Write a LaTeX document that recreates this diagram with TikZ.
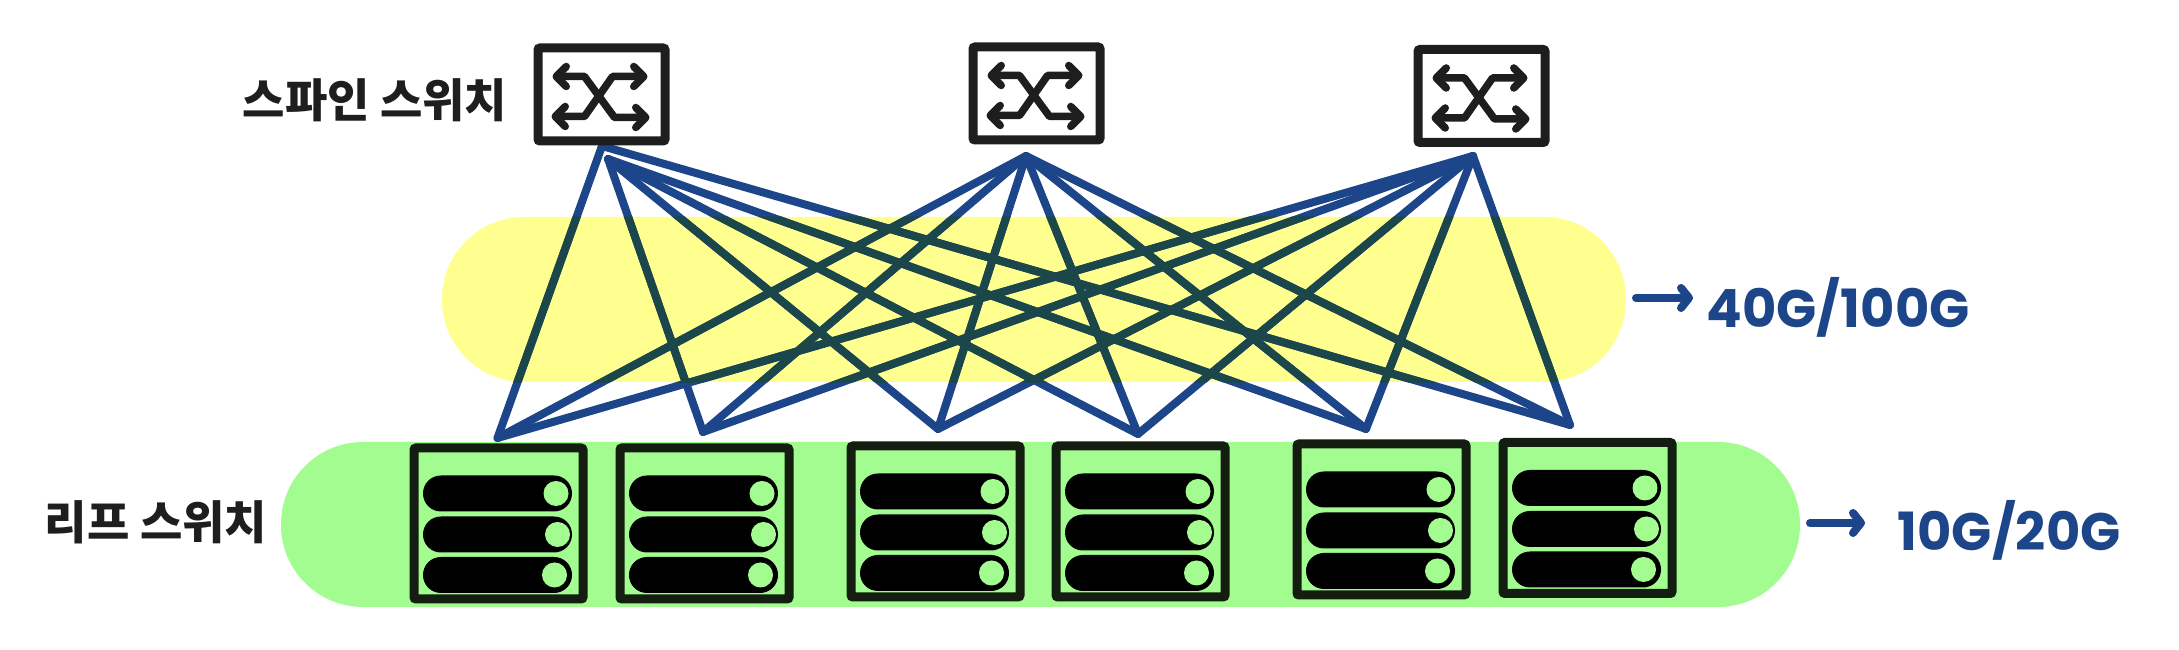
\documentclass[tikz,border=0pt]{standalone}
\usepackage{fontspec}
\newfontfamily\cjk{Noto Sans CJK KR}
\newfontfamily\speedfont{Poppins}
\usetikzlibrary{arrows.meta}
\definecolor{linkblue}{HTML}{1D4589}
\definecolor{linkgreen}{HTML}{1B474A}
\definecolor{bandyellow}{HTML}{FFFF8F}
\definecolor{bandgreen}{HTML}{A3FC90}
\definecolor{boxdark}{HTML}{1E1E1E}
\definecolor{leafdark}{HTML}{131E10}
\tikzstyle{spineswitch} = [
    rectangle,
    rounded corners=0.02cm,
    minimum width=1.27cm,
    minimum height=0.93cm,
    line width=0.09cm,
    draw=boxdark,
    node distance=4.35cm
]
\tikzstyle{leafswitch} = [
    rectangle,
    rounded corners=0.02cm,
    minimum width=1.69cm,
    minimum height=1.51cm,
    line width=0.09cm,
    draw=leafdark
]
\tikzstyle{band} = [
    rectangle,
    rounded corners=0.82cm,
    minimum height=1.65cm
]
\tikzstyle{leafbar} = [
    rectangle,
    rounded corners=0.179cm,
    minimum width=1.49cm,
    minimum height=0.36cm,
    inner sep=0pt,
    fill=black
]
\tikzstyle{leafdot} = [
    circle,
    minimum size=0.25cm,
    inner sep=0pt,
    fill=bandgreen
]
\tikzstyle{cross} = [
    line width=0.075cm,
    draw=boxdark,
    line cap=round,
    line join=round,
    {Straight Barb[length=0.1cm,width=0.2cm,round]}-{Straight Barb[length=0.1cm,width=0.2cm,round]}
]
\tikzstyle{link} = [line width=0.08cm, line cap=round, line join=round]
\tikzstyle{speedarrow} = [
    line width=0.08cm,
    draw=linkblue,
    line cap=round,
    -{Straight Barb[length=0.08cm,width=0.2cm,round]}
]
\tikzstyle{tag} = [inner sep=0pt, font=\cjk\bfseries\fontsize{13.1pt}{15pt}\selectfont, text=boxdark]
\tikzstyle{speed} = [inner sep=0pt, font=\speedfont\bfseries\fontsize{15pt}{18pt}\selectfont, text=linkblue]
\newcommand{\crossarrows}[1]{
    \begin{scope}[shift={(#1.center)}]
    \draw [cross] (-0.49,0.18) -- (-0.17,0.18) -- (0.13,-0.23) -- (0.48,-0.23);
    \draw [cross] (-0.5,-0.22) -- (-0.17,-0.22) -- (0.11,0.18) -- (0.46,0.18);
    \end{scope}
}
\newcommand{\leafbars}[1]{
    \node (#1barA) [leafbar] at ([xshift=-0.01cm,yshift=0.3cm]#1.center) {};
    \node (#1barB) [leafbar] at ([xshift=-0.01cm,yshift=-0.11cm]#1.center) {};
    \node (#1barC) [leafbar] at ([xshift=-0.01cm,yshift=-0.515cm]#1.center) {};
    \node (#1dotA) [leafdot] at ([xshift=0.585cm]#1barA.center) {};
    \node (#1dotB) [leafdot] at ([xshift=0.6cm]#1barB.center) {};
    \node (#1dotC) [leafdot] at ([xshift=0.57cm]#1barC.center) {};
}
\newcommand{\fabriclinks}[1]{
    \draw [link, draw=#1] (leafAtip) -- (spineAapex) -- (leafFtip);
    \draw [link, draw=#1] (spineAinner) -- (leafBtip);
    \draw [link, draw=#1] (spineAinner) -- (leafCtip);
    \draw [link, draw=#1] (spineAinner) -- (leafDtip);
    \draw [link, draw=#1] (spineAinner) -- (leafEtip);
    \draw [link, draw=#1] (spineBtip) -- (leafAtip);
    \draw [link, draw=#1] (spineBtip) -- (leafBtip);
    \draw [link, draw=#1] (spineBtip) -- (leafCtip);
    \draw [link, draw=#1] (spineBtip) -- (leafDtip);
    \draw [link, draw=#1] (spineBtip) -- (leafEtip);
    \draw [link, draw=#1] (spineBtip) -- (leafFtip);
    \draw [link, draw=#1] (spineCtip) -- (leafAtip);
    \draw [link, draw=#1] (spineCtip) -- (leafBtip);
    \draw [link, draw=#1] (spineCtip) -- (leafCtip);
    \draw [link, draw=#1] (spineCtip) -- (leafDtip);
    \draw [link, draw=#1] (spineCtip) -- (leafEtip);
    \draw [link, draw=#1] (spineCtip) -- (leafFtip);
}

\begin{document}
\begin{tikzpicture}

\useasboundingbox (0,0) rectangle (21.79,6.5);

\node (yellowband) [band, fill=bandyellow, minimum width=11.84cm] at (10.34,3.505) {};
\node (greenband) [band, fill=bandgreen, minimum width=15.19cm] at (10.405,1.255) {};

\coordinate (spineAapex) at (6.02,5.04);
\coordinate (spineAinner) at (6.08,4.91);
\coordinate (spineBtip) at (10.26,4.94);
\coordinate (spineCtip) at (14.73,4.94);
\coordinate (leafAtip) at (4.975,2.12);
\coordinate (leafBtip) at (7.03,2.18);
\coordinate (leafCtip) at (9.38,2.21);
\coordinate (leafDtip) at (11.38,2.16);
\coordinate (leafEtip) at (13.66,2.21);
\coordinate (leafFtip) at (15.7,2.25);

\fabriclinks{linkblue}
\begin{scope}
\clip [rounded corners=0.82cm] (yellowband.south west) rectangle (yellowband.north east);
\fabriclinks{linkgreen}
\end{scope}

\node (spineA) [spineswitch] at (6.015,5.555) {};
\node (spineB) [spineswitch, right of=spineA, yshift=0.01cm] {};
\node (spineC) [spineswitch, right of=spineB, node distance=4.45cm, yshift=-0.025cm] {};
\crossarrows{spineA}
\crossarrows{spineB}
\crossarrows{spineC}

\node (leafA) [leafswitch] at (4.985,1.265) {};
\node (leafB) [leafswitch, right of=leafA, node distance=2.06cm] {};
\node (leafC) [leafswitch, right of=leafB, node distance=2.31cm, yshift=0.02cm] {};
\node (leafD) [leafswitch, right of=leafC, node distance=2.05cm] {};
\node (leafE) [leafswitch, right of=leafD, node distance=2.41cm, yshift=0.02cm] {};
\node (leafF) [leafswitch, right of=leafE, node distance=2.06cm, yshift=0.015cm] {};
\leafbars{leafA}
\leafbars{leafB}
\leafbars{leafC}
\leafbars{leafD}
\leafbars{leafE}
\leafbars{leafF}

\node (spinelabel) [tag] at (3.75,5.5) {스파인 스위치};
\node (leaflabel) [tag] at (1.56,1.28) {리프 스위치};

\node (speedtop) [speed, anchor=west] at (17.06,3.43) {40G/100G};
\node (speedbottom) [speed, anchor=west] at (18.97,1.2) {10G/20G};
\coordinate (speedtopstart) at (16.36,3.52);
\coordinate (speedtopend) at (16.93,3.52);
\coordinate (speedbottomstart) at (18.1,1.27);
\coordinate (speedbottomend) at (18.65,1.27);
\draw [speedarrow] (speedtopstart) -- (speedtopend);
\draw [speedarrow] (speedbottomstart) -- (speedbottomend);

\end{tikzpicture}
\end{document}
